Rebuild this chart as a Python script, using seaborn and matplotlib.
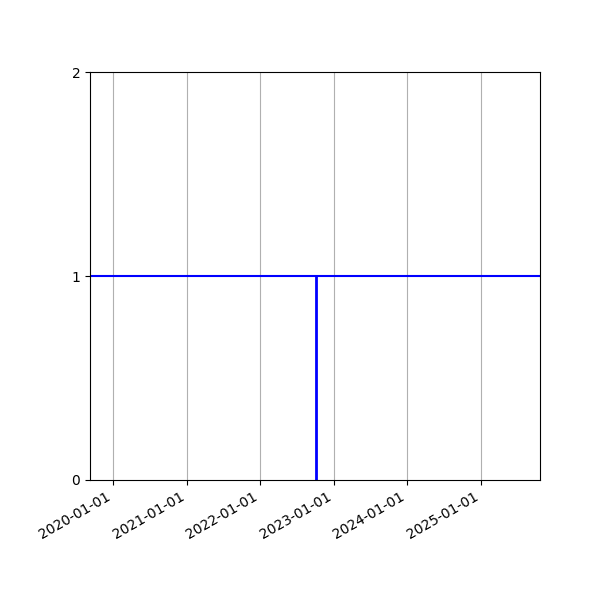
import matplotlib
matplotlib.use("Agg")
import matplotlib.pyplot as plt
import matplotlib.dates as mdates
import seaborn as sns
import pandas as pd
import numpy as np

# Data
hline_value = [1]
event_dates = ["2022-10-03"]
event_low = [0]
event_high = [1]
x_range = ["2019-09-09", "2025-10-21"]
y_ticks = [0, 1, 2]

sns.set_style("ticks")
plt.rcParams['font.family'] = ['DejaVu Sans']

fig, ax = plt.subplots(figsize=(6, 6), dpi=100)

dates = pd.to_datetime(pd.Series(x_range))
df = pd.DataFrame({"date": dates, "value": hline_value * len(dates)})
sns.lineplot(data=df, x="date", y="value", ax=ax, color="blue", linewidth=1.5)

ev = pd.to_datetime(pd.Series(event_dates))
ax.vlines(ev, event_low, event_high, colors="blue", linewidth=2)

ax.set_xlim(dates.iloc[0], dates.iloc[1])
ax.set_ylim(0, 2)
ax.set_yticks(y_ticks)
ax.set_xlabel("")
ax.set_ylabel("")
ax.xaxis.set_major_locator(mdates.YearLocator())
ax.xaxis.set_major_formatter(mdates.DateFormatter("%Y-%m-%d"))
ax.grid(axis="x", color="#b0b0b0", linewidth=0.8)
ax.grid(axis="y", visible=False)
for s in ax.spines.values():
    s.set_visible(True)
    s.set_color("black")
    s.set_linewidth(0.8)
ax.tick_params(axis="both", colors="black", direction="out", length=3.5, width=0.8, labelsize=10)

fig.autofmt_xdate()
fig.subplots_adjust(left=0.15, right=0.9, top=0.88, bottom=0.2)
fig.savefig("out.png", dpi=100)
